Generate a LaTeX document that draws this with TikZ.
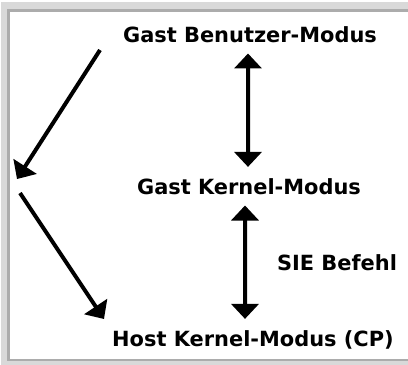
\documentclass[tikz,border=0pt]{standalone}
\usepackage{fontspec}
\setsansfont{DejaVu Sans}
\usetikzlibrary{arrows.meta}

\begin{document}
\begin{tikzpicture}[x=1bp, y=-1bp,
    lbl/.style={font=\sffamily\bfseries\fontsize{21}{25}\selectfont, inner sep=0pt, anchor=base},
    tip/.tip={Triangle[length=15bp, width=27bp]},
    dbl/.style={tip-tip, line width=4bp, shorten <=11bp, shorten >=11bp},
    arr/.style={-tip, line width=4bp}]
    \useasboundingbox (0,0) rectangle (408,365);

    \draw[gray!30, line width=8bp] (420,6) -- (5,6) -- (5,364) -- (420,364);
    \draw[gray!65, line width=2.5bp] (420,10.5) -- (8.5,10.5) -- (8.5,360) -- (420,360);

    \node[lbl] (ben) at (250,42) {Gast Benutzer-Modus};
    \node[lbl] (ker) at (249,194) {Gast Kernel-Modus};
    \node[lbl] (sie) at (337,270) {SIE Befehl};
    \node[lbl] (host) at (253,346) {Host Kernel-Modus (CP)};

    \draw[dbl] ([xshift=-2bp]ben.south) -- ([xshift=-1bp]ker.north);
    \draw[dbl] ([xshift=-4bp]ker.south) -- ([xshift=-8bp]host.north);

    \coordinate (top) at (100,50);
    \coordinate (turnA) at (17,179);
    \coordinate (turnB) at (20,193);
    \coordinate (bot) at (104,319);
    \draw[arr] (top) -- (turnA);
    \draw[arr] (turnB) -- (bot);
\end{tikzpicture}
\end{document}
